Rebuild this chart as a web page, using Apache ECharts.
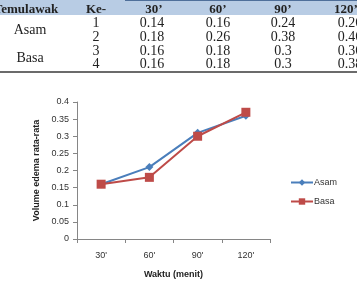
<!DOCTYPE html>
<html>
<head>
<meta charset="utf-8">
<script src="https://cdn.jsdelivr.net/npm/echarts@6/dist/echarts.min.js"></script>
<style>
  html, body { margin: 0; padding: 0; background: #fff; }
  .wrap { position: relative; width: 357px; height: 284px; overflow: hidden; }
  .tbl { position: absolute; left: 0; top: 0; width: 357px; height: 74px;
         font-family: "Liberation Serif", "DejaVu Serif", serif; font-size: 14px; color: #222; }
  .head-bg { position: absolute; left: 0; top: 0; width: 357px; height: 15px; background: #b8cce4; }
  .head-line { position: absolute; left: 125px; top: 0; width: 232px; height: 1px; background: #4f6f9a; }
  .foot-line { position: absolute; left: 0; top: 71px; width: 357px; height: 2px; background: #6b6b6b; }
  .cell { position: absolute; white-space: nowrap; transform: translate(-50%, -50%); line-height: 1; }
  .cell.b { font-weight: bold; font-size: 13px; }
  #chart { position: absolute; left: 0; top: 0; width: 357px; height: 284px; }
</style>
</head>
<body>
<div class="wrap">
  <div id="chart"></div>
  <div class="tbl" id="tbl">
    <div class="head-bg"></div>
    <div class="head-line"></div>
    <div class="foot-line"></div>
  </div>
</div>
<script>
// tabel
const tableHeaders = ['Temulawak', 'Ke-', '30’', '60’', '90’', '120’']
const groupNames = ['Asam', 'Basa']
const rowNumbers = ['1', '2', '3', '4']
const rowValues = [
  ['0.14', '0.16', '0.24', '0.26'],
  ['0.18', '0.26', '0.38', '0.46'],
  ['0.16', '0.18', '0.3', '0.36'],
  ['0.16', '0.18', '0.3', '0.38']
]

// grafik
const categories = ['30\'', '60\'', '90\'', '120\'']
const asam = [0.16, 0.21, 0.31, 0.36]
const basa = [0.16, 0.18, 0.30, 0.37]

const colX = [30, 96, 152, 218, 283, 350]
const headX = [26, 96, 154, 218, 283, 346]
const rowY = [23, 37, 51, 64]

const tbl = document.getElementById('tbl')
function addCell(text, x, y, bold) {
  const d = document.createElement('div')
  d.className = 'cell' + (bold ? ' b' : '')
  d.textContent = text
  d.style.left = x + 'px'
  d.style.top = y + 'px'
  tbl.appendChild(d)
}
tableHeaders.forEach((h, i) => addCell(h, headX[i], 8, true))
addCell(groupNames[0], colX[0], 30)
addCell(groupNames[1], colX[0], 58)
rowNumbers.forEach((n, r) => {
  addCell(n, colX[1], rowY[r])
  rowValues[r].forEach((v, c) => addCell(v, colX[c + 2], rowY[r]))
})

const chart = echarts.init(document.getElementById('chart'))
const axisGrey = '#868686'
chart.setOption({
  animation: false,
  textStyle: { fontFamily: 'Liberation Sans, Arial, sans-serif' },
  grid: { left: 77, right: 87, top: 102, bottom: 45 },
  legend: {
    orient: 'vertical',
    left: 285,
    top: 173,
    itemWidth: 22,
    itemHeight: 8,
    itemGap: 10,
    textStyle: { fontSize: 9, color: '#333', padding: [0, 0, 0, -4] },
    data: ['Asam', 'Basa']
  },
  xAxis: {
    type: 'category',
    data: categories,
    boundaryGap: true,
    name: 'Waktu (menit)',
    nameLocation: 'middle',
    nameGap: 31,
    nameTextStyle: { fontSize: 9, fontWeight: 'bold', color: '#222' },
    axisLine: { lineStyle: { color: axisGrey } },
    axisTick: { show: true, length: 4, lineStyle: { color: axisGrey } },
    axisLabel: { fontSize: 9, color: '#333', margin: 12 }
  },
  yAxis: {
    type: 'value',
    min: 0,
    max: 0.4,
    interval: 0.05,
    name: 'Volume edema rata-rata',
    nameLocation: 'middle',
    nameGap: 33,
    nameTextStyle: { fontSize: 9, fontWeight: 'bold', color: '#222' },
    axisLine: { show: true, lineStyle: { color: axisGrey } },
    axisTick: { show: true, length: 4, lineStyle: { color: axisGrey } },
    splitLine: { show: false },
    axisLabel: { fontSize: 9, color: '#333', margin: 8 }
  },
  series: [
    {
      name: 'Asam',
      type: 'line',
      data: asam,
      symbol: 'diamond',
      symbolSize: 8,
      color: '#4a7ebb',
      lineStyle: { width: 2 }
    },
    {
      name: 'Basa',
      type: 'line',
      data: basa,
      symbol: 'rect',
      symbolSize: 9,
      color: '#be4b48',
      lineStyle: { width: 2 }
    }
  ]
})
</script>
</body>
</html>
